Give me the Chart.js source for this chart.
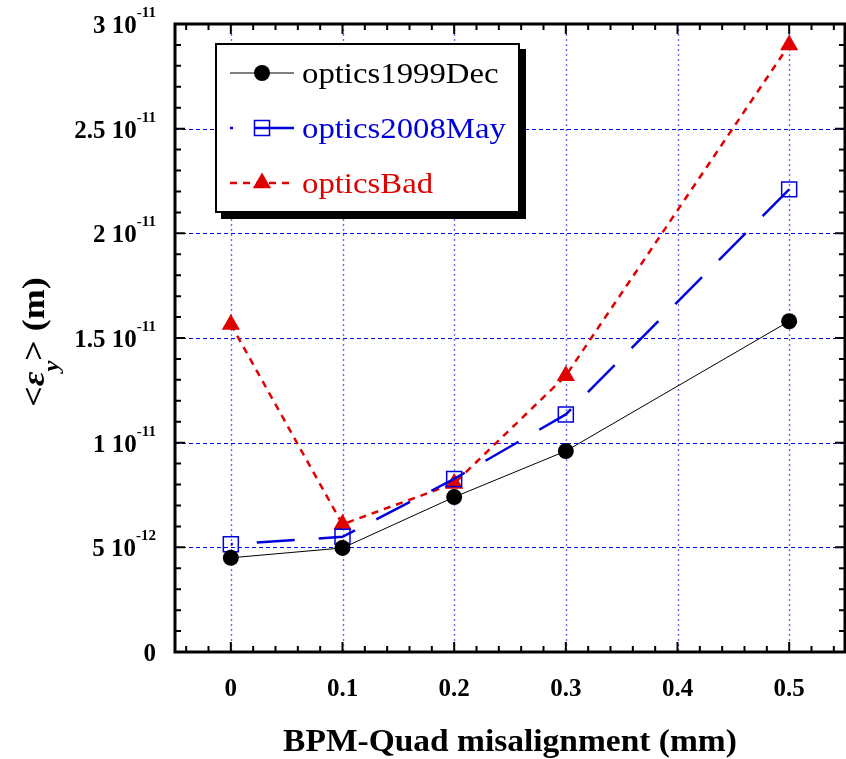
<!DOCTYPE html>
<html>
<head>
<meta charset="utf-8">
<script src="https://cdn.jsdelivr.net/npm/chart.js@4.4.0/dist/chart.umd.min.js"></script>
<style>
  html, body { margin: 0; padding: 0; background: #fff; }
</style>
</head>
<body>
<canvas id="emitChart" width="846" height="759"></canvas>
<script>
// values
const misalign = [0, 0.1, 0.2, 0.3, 0.5];
const optics1999Dec = [4.5e-12, 4.97e-12, 7.4e-12, 9.6e-12, 15.8e-12];
const optics2008May = [5.15e-12, 5.5e-12, 8.27e-12, 11.35e-12, 22.1e-12];
const opticsBad = [15.65e-12, 6.1e-12, 8.05e-12, 13.2e-12, 29.0e-12];

const xTicks = [0, 0.1, 0.2, 0.3, 0.4, 0.5];
const xTickLabels = ['0', '0.1', '0.2', '0.3', '0.4', '0.5'];
const yTicks = [0, 5e-12, 1e-11, 1.5e-11, 2e-11, 2.5e-11, 3e-11];
const yTickLabels = [['0', ''], ['5 10', '-12'], ['1 10', '-11'], ['1.5 10', '-11'], ['2 10', '-11'], ['2.5 10', '-11'], ['3 10', '-11']];

const RED = '#e00000';
const BLUE = '#0000dd';
const SERIF = '"Liberation Serif", "Times New Roman", serif';

// text with an optional horizontal stretch, like the original plot
function stext(ctx, str, x, y, font, sx, align) {
    ctx.save();
    ctx.font = font;
    const w = ctx.measureText(str).width * sx;
    let x0 = x;
    if (align === 'center') x0 = x - w / 2;
    else if (align === 'right') x0 = x - w;
    ctx.translate(x0, y);
    ctx.scale(sx, 1);
    ctx.textAlign = 'left';
    ctx.textBaseline = 'alphabetic';
    ctx.fillText(str, 0, 0);
    ctx.restore();
    return w;
}

function toPoints(ys) {
    return misalign.map((x, i) => ({ x: x, y: ys[i] }));
}

const framePlugin = {
    id: 'frame',
    beforeDatasetsDraw(chart) {
        const ctx = chart.ctx;
        const a = chart.chartArea;
        const xs = chart.scales.x, ys = chart.scales.y;
        ctx.save();
        // vertical grid
        ctx.strokeStyle = '#6a6af0';
        ctx.lineWidth = 1.4;
        ctx.setLineDash([2, 3]);
        xTicks.forEach(v => {
            const px = Math.round(xs.getPixelForValue(v)) + 0.5;
            ctx.beginPath(); ctx.moveTo(px, a.top); ctx.lineTo(px, a.bottom); ctx.stroke();
        });
        // horizontal grid
        ctx.strokeStyle = '#0000ff';
        ctx.lineWidth = 1.2;
        ctx.setLineDash([4, 3]);
        yTicks.slice(1, -1).forEach(v => {
            const py = Math.round(ys.getPixelForValue(v)) + 0.5;
            ctx.beginPath(); ctx.moveTo(a.left, py); ctx.lineTo(a.right, py); ctx.stroke();
        });
        ctx.restore();
    },
    afterDatasetsDraw(chart) {
        const ctx = chart.ctx;
        const a = chart.chartArea;
        const xs = chart.scales.x, ys = chart.scales.y;
        ctx.save();
        ctx.setLineDash([]);

        // inward ticks on all sides
        ctx.strokeStyle = '#000';
        ctx.lineWidth = 2;
        for (let i = -2; i <= 27; i++) {
            const v = i * 0.02;
            if (v < -0.05 || v > 0.55) continue;
            const px = xs.getPixelForValue(v);
            const len = (i % 5 === 0) ? 10 : 6;
            ctx.beginPath();
            ctx.moveTo(px, a.bottom); ctx.lineTo(px, a.bottom - len);
            ctx.moveTo(px, a.top); ctx.lineTo(px, a.top + len);
            ctx.stroke();
        }
        for (let i = 1; i < 30; i++) {
            const py = ys.getPixelForValue(i * 1e-12);
            const len = (i % 5 === 0) ? 10 : 6;
            ctx.beginPath();
            ctx.moveTo(a.left, py); ctx.lineTo(a.left + len, py);
            ctx.moveTo(a.right, py); ctx.lineTo(a.right - len, py);
            ctx.stroke();
        }

        // frame
        ctx.lineWidth = 3;
        ctx.strokeRect(a.left, a.top, a.right - a.left, a.bottom - a.top);

        // tick labels
        ctx.fillStyle = '#000';
        xTicks.forEach((v, i) => {
            stext(ctx, xTickLabels[i], xs.getPixelForValue(v), 696, 'bold 25px ' + SERIF, 1, 'center');
        });
        yTicks.forEach((v, i) => {
            const py = ys.getPixelForValue(v);
            const main = yTickLabels[i][0], sup = yTickLabels[i][1];
            ctx.font = 'bold 15px ' + SERIF;
            const w2 = sup ? ctx.measureText(sup).width : 0;
            const xr = 156;
            stext(ctx, main, xr - w2, py + 9, 'bold 25px ' + SERIF, 1, 'right');
            if (sup) stext(ctx, sup, xr - w2, py - 7, 'bold 15px ' + SERIF, 1, 'left');
        });

        // axis titles
        stext(ctx, 'BPM-Quad misalignment (mm)', (a.left + a.right) / 2, 751, 'bold 31px ' + SERIF, 1.08, 'center');

        ctx.save();
        ctx.translate(44, 342);
        ctx.rotate(-Math.PI / 2);
        const parts = [
            ['<', 'bold 31px ' + SERIF, 0],
            ['\u03b5', 'italic bold 31px ' + SERIF, 0],
            ['y', 'italic bold 21px ' + SERIF, 14],
            ['>', 'bold 31px ' + SERIF, 0],
            [' (m)', 'bold 31px ' + SERIF, 0]
        ];
        const sx = 1.16;
        let total = 0;
        parts.forEach(p => { ctx.font = p[1]; total += ctx.measureText(p[0]).width * sx; });
        let cx = -total / 2;
        parts.forEach(p => { cx += stext(ctx, p[0], cx, p[2], p[1], sx, 'left'); });
        ctx.restore();

        // legend box with shadow
        const lx = 216, ly = 44, lw = 303, lh = 168;
        ctx.fillStyle = '#000';
        ctx.fillRect(lx + 5, ly + 5, lw + 2, lh + 2);
        ctx.fillStyle = '#fff';
        ctx.fillRect(lx, ly, lw, lh);
        ctx.lineWidth = 2;
        ctx.strokeStyle = '#000';
        ctx.strokeRect(lx, ly, lw, lh);

        const rows = [73, 128, 183];
        // optics1999Dec
        ctx.lineWidth = 1;
        ctx.beginPath(); ctx.moveTo(230, rows[0]); ctx.lineTo(294, rows[0]); ctx.stroke();
        ctx.beginPath(); ctx.arc(262, rows[0], 8, 0, Math.PI * 2); ctx.fillStyle = '#000'; ctx.fill();
        // optics2008May
        ctx.strokeStyle = BLUE;
        ctx.lineWidth = 2.5;
        ctx.beginPath(); ctx.moveTo(230, rows[1]); ctx.lineTo(233, rows[1]);
        ctx.moveTo(255, rows[1]); ctx.lineTo(294, rows[1]); ctx.stroke();
        ctx.lineWidth = 1.5;
        ctx.strokeRect(262 - 7.5, rows[1] - 7.5, 15, 15);
        // opticsBad
        ctx.strokeStyle = RED;
        ctx.lineWidth = 2.5;
        ctx.setLineDash([7, 6]);
        ctx.beginPath(); ctx.moveTo(230, rows[2]); ctx.lineTo(294, rows[2]); ctx.stroke();
        ctx.setLineDash([]);
        ctx.fillStyle = RED;
        ctx.beginPath();
        ctx.moveTo(262, rows[2] - 10.5);
        ctx.lineTo(262 + 9.1, rows[2] + 5.25);
        ctx.lineTo(262 - 9.1, rows[2] + 5.25);
        ctx.closePath(); ctx.fill();

        const lf = '29px ' + SERIF;
        ctx.fillStyle = '#000';
        stext(ctx, 'optics1999Dec', 302, rows[0] + 10, lf, 1.13, 'left');
        ctx.fillStyle = BLUE;
        stext(ctx, 'optics2008May', 302, rows[1] + 10, lf, 1.13, 'left');
        ctx.fillStyle = RED;
        stext(ctx, 'opticsBad', 302, rows[2] + 10, lf, 1.13, 'left');

        ctx.restore();
    }
};

const ctx = document.getElementById('emitChart').getContext('2d');

const config = {
    type: 'line',
    data: {
        datasets: [
            {
                label: 'optics1999Dec',
                data: toPoints(optics1999Dec),
                borderColor: '#000',
                borderWidth: 1,
                pointStyle: 'circle',
                pointRadius: 8,
                pointBackgroundColor: '#000',
                pointBorderWidth: 0
            },
            {
                label: 'optics2008May',
                data: toPoints(optics2008May),
                borderColor: BLUE,
                borderWidth: 2.5,
                borderDash: [38, 24],
                borderDashOffset: 36,
                pointStyle: 'rect',
                pointRadius: 10.6,
                pointBackgroundColor: 'rgba(0,0,0,0)',
                pointBorderColor: BLUE,
                pointBorderWidth: 1.5
            },
            {
                label: 'opticsBad',
                data: toPoints(opticsBad),
                borderColor: RED,
                borderWidth: 2.5,
                borderDash: [7, 6],
                pointStyle: 'triangle',
                pointRadius: 10.5,
                pointBackgroundColor: RED,
                pointBorderWidth: 0
            }
        ]
    },
    options: {
        responsive: false,
        animation: false,
        layout: { autoPadding: false, padding: { left: 175, right: 1, top: 24, bottom: 107 } },
        scales: {
            x: { type: 'linear', min: -0.05, max: 0.55, display: false },
            y: { type: 'linear', min: 0, max: 3e-11, display: false }
        },
        plugins: {
            legend: { display: false },
            tooltip: { enabled: false }
        },
        elements: { line: { tension: 0 } }
    },
    plugins: [framePlugin]
};

new Chart(ctx, config);
</script>
</body>
</html>
